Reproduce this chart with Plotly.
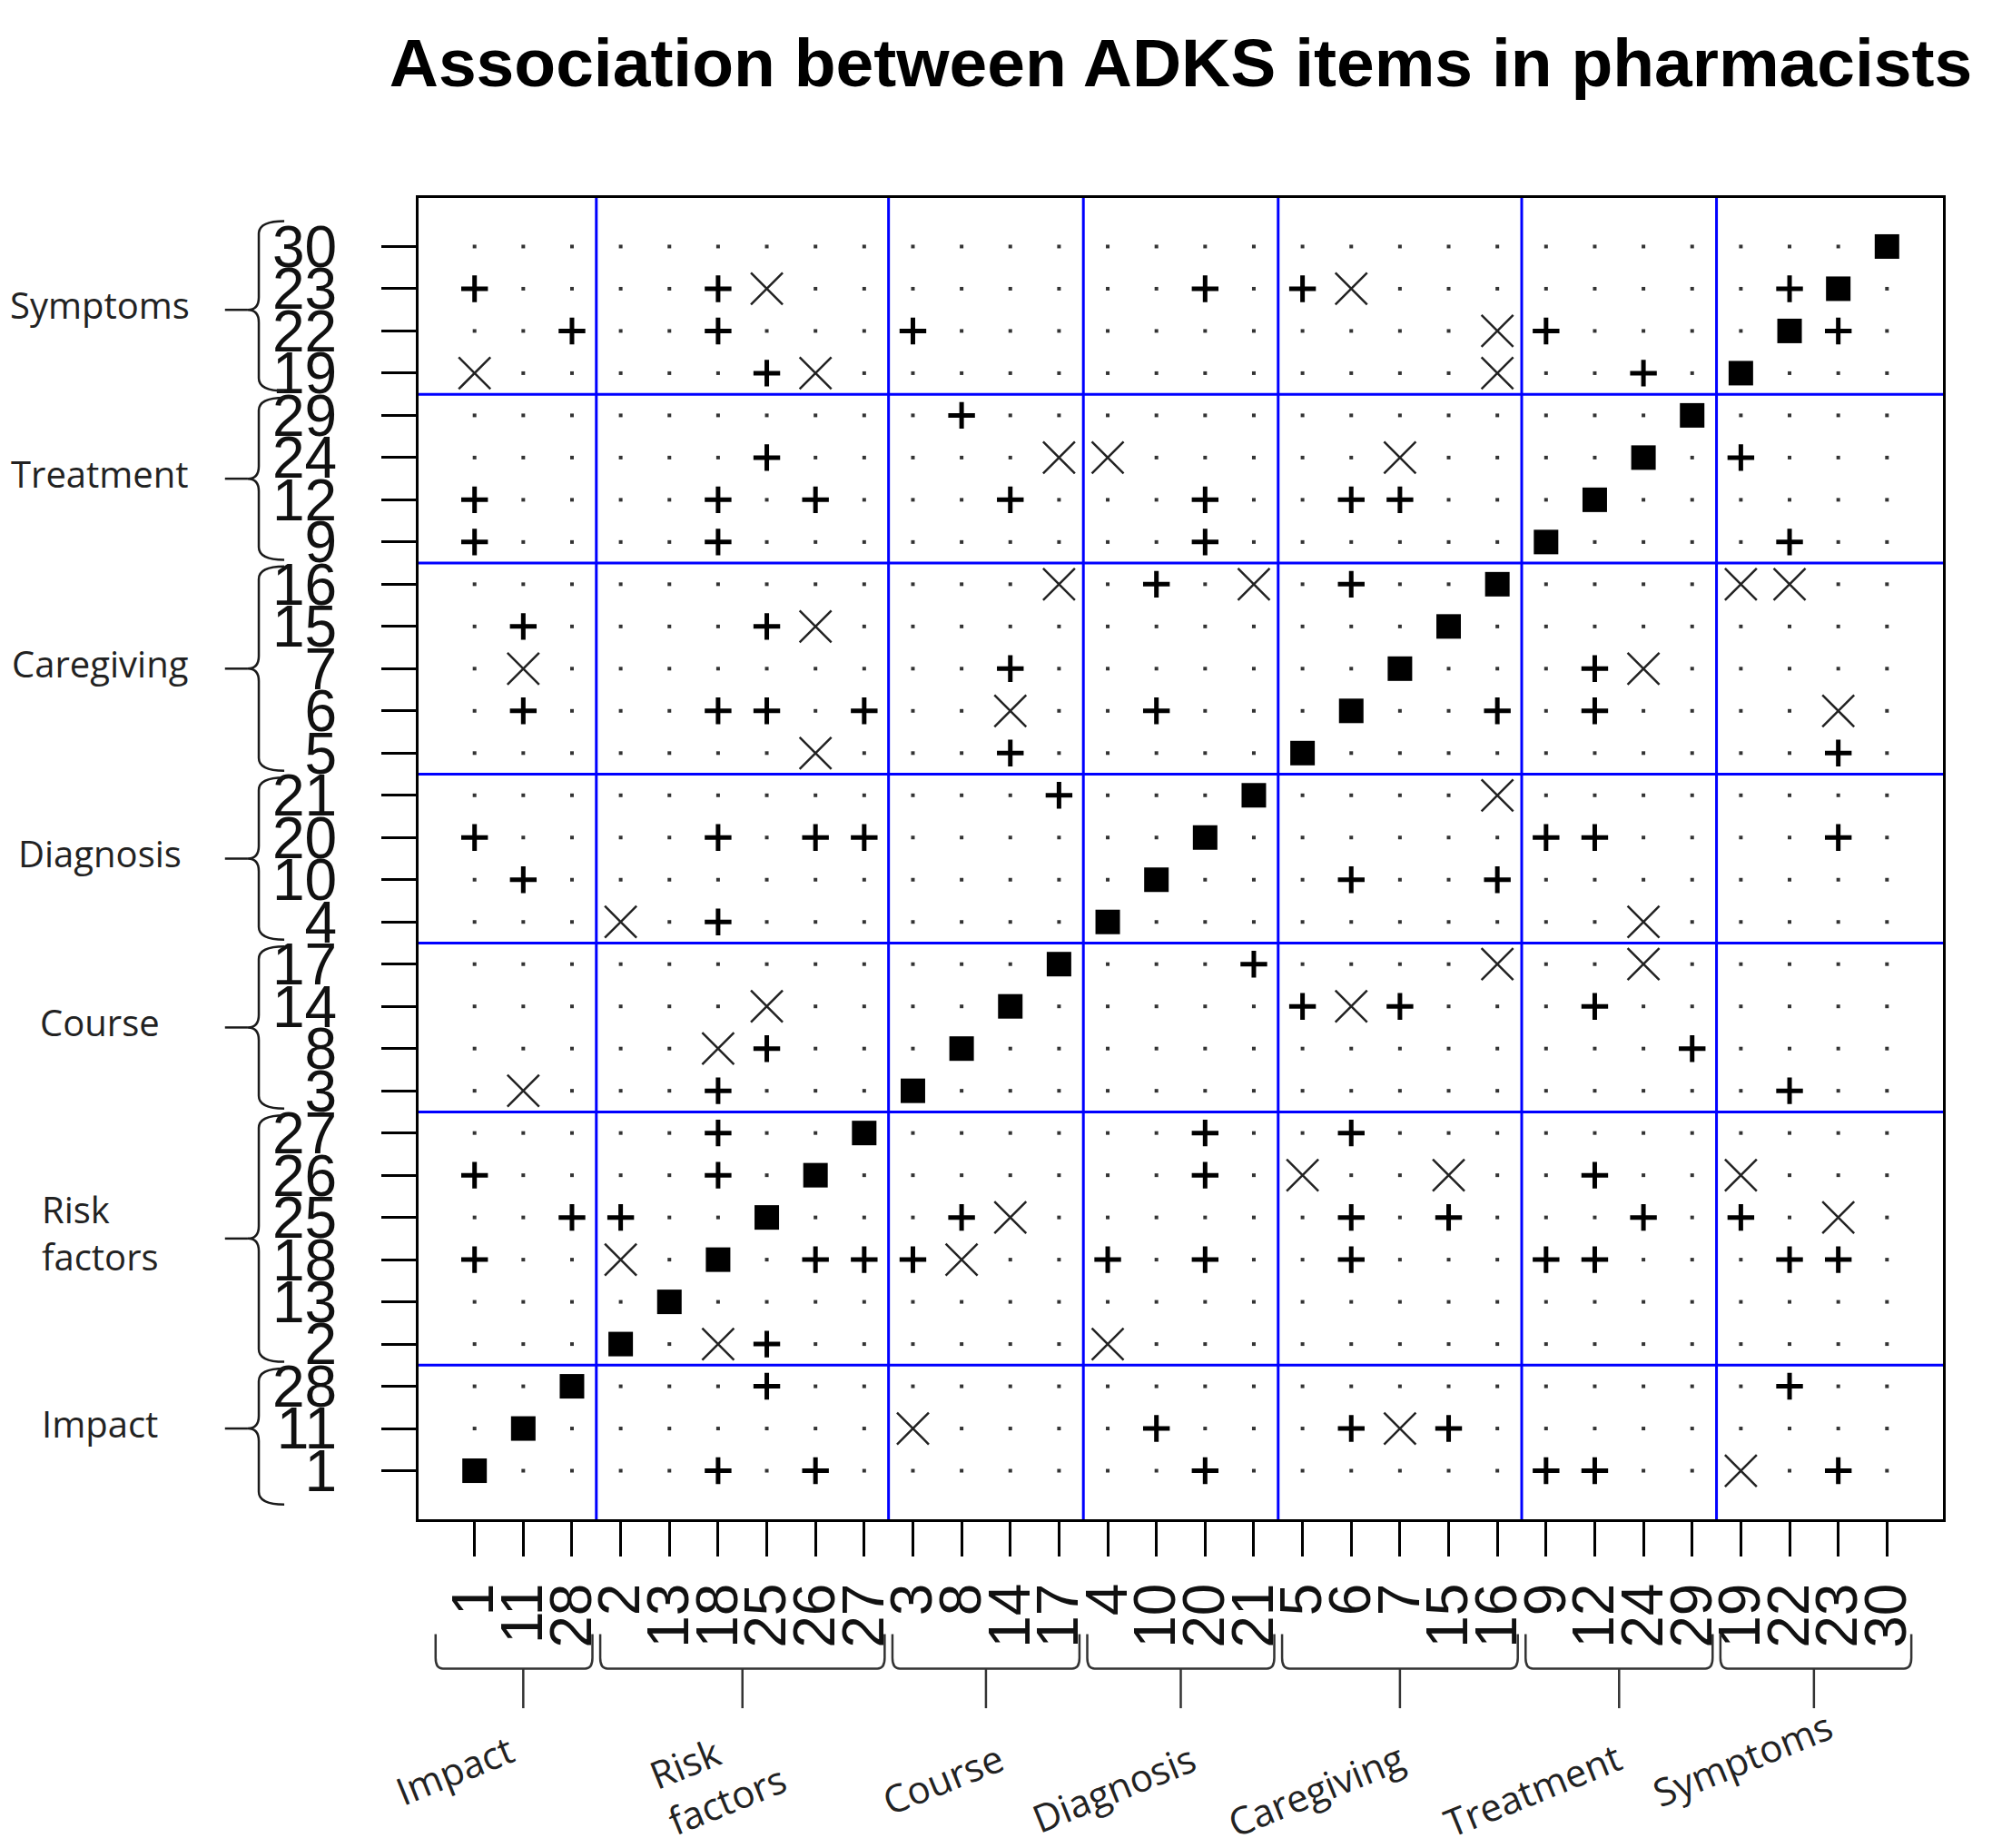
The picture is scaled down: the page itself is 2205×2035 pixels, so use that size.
import plotly.graph_objects as go

# item order along both axes (bottom/left first)
item_order = [1, 11, 28, 2, 13, 18, 25, 26, 27, 3, 8, 14, 17, 4, 10, 20, 21,
              5, 6, 7, 15, 16, 9, 12, 24, 29, 19, 22, 23, 30]
group_names = ["Impact", "Risk<br>factors", "Course", "Diagnosis",
               "Caregiving", "Treatment", "Symptoms"]
group_sizes = [3, 6, 4, 4, 5, 4, 4]

# associations between items (matrix is symmetric)
plus_pairs = [(23, 1), (23, 18), (23, 20), (23, 5), (23, 22),
              (22, 28), (22, 18), (22, 3), (22, 9),
              (19, 25), (19, 24), (29, 8), (24, 25),
              (12, 1), (12, 18), (12, 26), (12, 14), (12, 20), (12, 6), (12, 7),
              (9, 1), (9, 18), (9, 20),
              (16, 10), (16, 6), (15, 11), (15, 25), (7, 14),
              (6, 11), (6, 18), (6, 25), (6, 27), (6, 10),
              (5, 14), (21, 17),
              (20, 1), (20, 18), (20, 26), (20, 27),
              (10, 11), (4, 18), (8, 25), (3, 18), (27, 18),
              (26, 1), (26, 18), (25, 28), (25, 2), (18, 1)]
cross_pairs = [(23, 25), (23, 6), (22, 16), (19, 1), (19, 26), (19, 16),
               (24, 17), (24, 4), (24, 7), (16, 17), (16, 21), (15, 26),
               (7, 11), (6, 14), (5, 26), (4, 2), (14, 25), (8, 18),
               (3, 11), (18, 2)]

pos = {item: i + 1 for i, item in enumerate(item_order)}

marks = {}
for a, b in plus_pairs:
    marks[(a, b)] = marks[(b, a)] = "plus"
for a, b in cross_pairs:
    marks[(a, b)] = marks[(b, a)] = "cross"

pts = {"dot": ([], []), "diag": ([], []), "plus": ([], []), "cross": ([], [])}
for row in item_order:
    for col in item_order:
        kind = "diag" if row == col else marks.get((row, col), "dot")
        pts[kind][0].append(pos[col])
        pts[kind][1].append(pos[row])

fig = go.Figure()

fig.add_trace(go.Scatter(x=pts["dot"][0], y=pts["dot"][1], mode="markers",
                         marker=dict(symbol="square", size=4, color="#333333"),
                         hoverinfo="skip"))
fig.add_trace(go.Scatter(x=pts["diag"][0], y=pts["diag"][1], mode="markers",
                         marker=dict(symbol="square", size=27, color="black"),
                         hoverinfo="skip"))
fig.add_trace(go.Scatter(x=pts["plus"][0], y=pts["plus"][1], mode="markers",
                         marker=dict(symbol="cross-thin", size=21, color="black",
                                     line=dict(width=5, color="black")),
                         hoverinfo="skip"))
fig.add_trace(go.Scatter(x=pts["cross"][0], y=pts["cross"][1], mode="markers",
                         marker=dict(symbol="x-thin", size=35, color="#222222",
                                     line=dict(width=2.5, color="#222222")),
                         hoverinfo="skip"))

# group boundaries
bounds = [0.5]
for s in group_sizes:
    bounds.append(bounds[-1] + s)
centers = [(bounds[i] + bounds[i + 1]) / 2 for i in range(len(group_sizes))]

shapes = []
for b in bounds[1:-1]:
    shapes.append(dict(type="line", xref="x", yref="paper", x0=b, x1=b, y0=0, y1=1,
                       line=dict(color="#0000ff", width=3), layer="below"))
    shapes.append(dict(type="line", xref="paper", yref="y", x0=0, x1=1, y0=b, y1=b,
                       line=dict(color="#0000ff", width=3), layer="below"))

# left curly braces (x in paper units, y in data units)
dash_x, tip_x, spine_x, end_x = -0.127, -0.112, -0.1048, -0.0881
# bottom brackets (x in data units, y in paper units)
top_y, mid_y, stem_y = -0.087, -0.113, -0.143
gap = 0.08
brace_color = "#1a1a1a"
for i in range(len(group_sizes)):
    lo = bounds[i] + gap
    hi = bounds[i + 1] - gap
    if i == 0:
        lo = 0.2
    if i == len(group_sizes) - 1:
        hi = 30.6
    m = centers[i]
    d = 0.3
    path = (f"M {end_x},{hi} Q {spine_x},{hi} {spine_x},{hi - d} "
            f"L {spine_x},{m + d} Q {spine_x},{m} {tip_x},{m} "
            f"Q {spine_x},{m} {spine_x},{m - d} L {spine_x},{lo + d} "
            f"Q {spine_x},{lo} {end_x},{lo}")
    shapes.append(dict(type="path", xref="paper", yref="y", path=path,
                       line=dict(color=brace_color, width=2.5)))
    shapes.append(dict(type="line", xref="paper", yref="y", x0=dash_x, x1=tip_x,
                       y0=m, y1=m, line=dict(color=brace_color, width=2.5)))

    hi_b = 30.5 if i == len(group_sizes) - 1 else hi
    e, r = 0.15, 0.008
    path = (f"M {lo},{top_y} L {lo},{mid_y + r} Q {lo},{mid_y} {lo + e},{mid_y} "
            f"L {hi_b - e},{mid_y} Q {hi_b},{mid_y} {hi_b},{mid_y + r} L {hi_b},{top_y}")
    shapes.append(dict(type="path", xref="x", yref="paper", path=path,
                       line=dict(color="#333333", width=2.5)))
    shapes.append(dict(type="line", xref="x", yref="paper", x0=m, x1=m,
                       y0=mid_y, y1=stem_y, line=dict(color="#333333", width=2.5)))

# bottom label offsets from the bracket stems, in pixels
bottom_dx = [-76, -27, -48, -74, -93, -96, -79]
bottom_dy = [10, 2, 0, -10, -12, -12, 22]

left_font = dict(family="Open Sans, Noto Sans, sans-serif", size=40, color="#222222")
bottom_font = dict(family="Open Sans, Noto Sans, sans-serif", size=42, color="#222222")
annotations = []
for i, (name, c) in enumerate(zip(group_names, centers)):
    annotations.append(dict(text=name, xref="paper", yref="y", x=-0.209, y=c,
                            xanchor="center", yanchor="middle", align="left",
                            yshift=6, showarrow=False, font=left_font))
    annotations.append(dict(text=name, xref="x", yref="paper", x=c, y=-0.196,
                            xanchor="center", yanchor="middle", align="left",
                            xshift=bottom_dx[i], yshift=bottom_dy[i], textangle=-22,
                            showarrow=False, font=bottom_font))

tick_vals = [pos[i] for i in item_order]
tick_text = [str(i) for i in item_order]
tick_font = dict(family="Liberation Sans, Arial, sans-serif", size=64, color="#111111")
axis_common = dict(range=[-0.15, 31.15], tickmode="array", tickvals=tick_vals,
                   ticktext=tick_text, ticks="outside", ticklen=38, tickwidth=3,
                   tickcolor="black", showline=True, linewidth=3, linecolor="black",
                   mirror=True, showgrid=False, zeroline=False, tickfont=tick_font)

fig.update_layout(
    width=2205, height=2035, autosize=False,
    margin=dict(l=461, r=65, t=218, b=362),
    plot_bgcolor="white", paper_bgcolor="white",
    showlegend=False,
    title=dict(text="<b>Association between ADKS items in pharmacists</b>",
               x=0.5, xref="paper", xanchor="center",
               y=0.966, yref="container", yanchor="middle",
               font=dict(family="Liberation Sans, Arial, sans-serif", size=75,
                         color="black")),
    xaxis=dict(tickangle=-90, ticklabelstandoff=4, **axis_common),
    yaxis=dict(ticklabelstandoff=36, **axis_common),
    shapes=shapes,
    annotations=annotations,
)

fig.write_html("out.html", config={"displayModeBar": False},
               post_script="document.body.style.margin='0px';")
